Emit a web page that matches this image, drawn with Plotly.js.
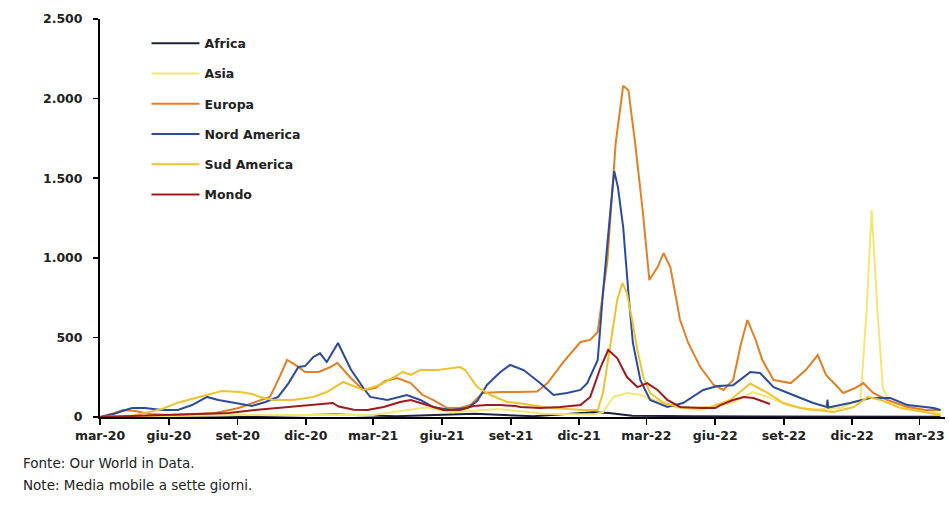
<!DOCTYPE html>
<html>
<head>
<meta charset="utf-8">
<script src="https://cdn.plot.ly/plotly-3.0.1.min.js"></script>
<style>html,body{margin:0;padding:0;background:#fff;}#chart{width:949px;height:508px;}</style>
</head>
<body>
<div id="chart"></div>
<script>
// ---- Tick labels ----
const tickDates = ['2020-03-01','2020-06-01','2020-09-01','2020-12-01','2021-03-01','2021-06-01','2021-09-01','2021-12-01','2022-03-01','2022-06-01','2022-09-01','2022-12-01','2023-03-01'];
const tickLabels = ['mar-20','giu-20','set-20','dic-20','mar-21','giu-21','set-21','dic-21','mar-22','giu-22','set-22','dic-22','mar-23'];

// ---- Africa ----
const africaDates = ['2020-03-01','2020-07-20','2020-09-15','2021-01-10','2021-04-01','2021-07-15','2021-10-01','2021-12-20','2022-01-10','2022-02-10','2022-05-01','2022-08-01','2022-12-01','2023-03-29'];
const africaValues = [0,10,5,15,5,20,5,30,25,8,5,3,2,1];

// ---- Asia ----
const asiaDates = ['2020-03-01','2020-06-01','2020-09-01','2020-12-01','2021-03-01','2021-05-10','2021-06-15','2021-08-15','2021-10-15','2021-12-20','2022-01-02','2022-01-16','2022-02-03','2022-02-21','2022-03-11','2022-04-06','2022-05-12','2022-06-25','2022-07-21','2022-08-10','2022-09-05','2022-10-05','2022-11-15','2022-12-12','2022-12-20','2022-12-27','2023-01-04','2023-01-11','2023-01-20','2023-02-13','2023-03-29'];
const asiaValues = [0,5,12,12,12,60,30,50,20,15,30,126,151,138,107,63,44,90,157,126,75,44,56,107,650,1300,650,180,100,56,25];

// ---- Europa ----
const europaDates = ['2020-03-01','2020-03-21','2020-04-01','2020-04-17','2020-05-07','2020-06-03','2020-07-06','2020-08-02','2020-09-01','2020-09-24','2020-10-14','2020-10-25','2020-11-06','2020-11-17','2020-11-30','2020-12-18','2021-01-03','2021-01-12','2021-01-30','2021-02-16','2021-03-04','2021-03-17','2021-04-02','2021-04-20','2021-05-06','2021-05-20','2021-06-08','2021-06-25','2021-07-09','2021-07-25','2021-08-18','2021-09-10','2021-10-06','2021-10-20','2021-11-10','2021-12-03','2021-12-16','2021-12-26','2022-01-08','2022-01-19','2022-01-29','2022-02-05','2022-02-14','2022-02-24','2022-03-05','2022-03-16','2022-03-24','2022-04-02','2022-04-15','2022-04-26','2022-05-12','2022-05-30','2022-06-12','2022-06-25','2022-07-05','2022-07-14','2022-07-25','2022-08-03','2022-08-18','2022-09-10','2022-09-30','2022-10-16','2022-10-27','2022-11-09','2022-11-19','2022-12-05','2022-12-16','2022-12-29','2023-01-17','2023-02-13','2023-03-09','2023-03-29'];
const europaValues = [0,25,44,38,19,13,19,25,55,94,126,232,358,327,283,283,314,340,245,170,182,226,245,213,138,107,56,56,75,151,157,157,160,213,345,471,484,534,986,1720,2080,2053,1720,1300,860,942,1030,942,609,465,314,201,170,232,452,609,484,358,232,213,295,389,264,201,151,182,213,151,107,63,44,44];

// ---- Nord America ----
const nordAmericaDates = ['2020-03-01','2020-03-20','2020-04-04','2020-04-13','2020-04-30','2020-05-23','2020-06-13','2020-07-02','2020-07-22','2020-08-06','2020-08-29','2020-09-20','2020-10-08','2020-10-25','2020-11-08','2020-11-21','2020-11-30','2020-12-11','2020-12-20','2020-12-29','2021-01-13','2021-01-30','2021-02-16','2021-02-25','2021-03-20','2021-04-15','2021-05-03','2021-05-20','2021-06-12','2021-07-05','2021-07-18','2021-07-31','2021-08-18','2021-08-31','2021-09-18','2021-10-10','2021-10-28','2021-11-15','2021-12-03','2021-12-12','2021-12-26','2022-01-02','2022-01-12','2022-01-17','2022-01-22','2022-01-29','2022-02-05','2022-02-11','2022-02-21','2022-03-06','2022-03-29','2022-04-19','2022-05-16','2022-06-04','2022-06-25','2022-07-18','2022-07-31','2022-08-18','2022-09-13','2022-10-10','2022-10-28','2022-10-29','2022-10-30','2022-11-28','2022-12-25','2023-01-21','2023-02-13','2023-03-20','2023-03-29'];
const nordAmericaValues = [0,20,44,56,56,44,44,75,126,107,88,69,94,126,213,314,320,377,400,345,465,300,182,126,107,138,107,63,44,56,100,201,283,327,295,213,138,151,170,213,358,779,1300,1545,1444,1193,779,465,232,107,63,88,170,195,200,283,276,188,138,88,63,110,60,88,119,119,75,56,44];

// ---- Sud America ----
const sudAmericaDates = ['2020-03-01','2020-04-15','2020-05-23','2020-06-13','2020-07-06','2020-07-26','2020-08-11','2020-09-04','2020-09-20','2020-10-01','2020-10-18','2020-11-14','2020-12-11','2020-12-29','2021-01-20','2021-01-30','2021-02-16','2021-03-10','2021-03-28','2021-04-10','2021-04-20','2021-05-03','2021-05-26','2021-06-25','2021-07-02','2021-07-18','2021-08-05','2021-08-27','2021-09-10','2021-09-27','2021-10-24','2021-12-07','2021-12-26','2022-01-02','2022-01-12','2022-01-21','2022-01-28','2022-02-03','2022-02-10','2022-02-17','2022-02-25','2022-03-06','2022-03-24','2022-04-19','2022-05-26','2022-06-21','2022-07-18','2022-08-10','2022-08-31','2022-09-23','2022-11-06','2022-12-03','2022-12-22','2023-01-08','2023-02-04','2023-03-12','2023-03-29'];
const sudAmericaValues = [0,10,50,90,119,145,163,157,144,126,107,107,126,157,220,201,170,201,251,283,264,295,295,314,295,188,138,94,88,75,56,44,44,151,465,735,842,779,609,421,251,151,88,56,63,107,210,151,88,56,31,63,126,107,56,25,13];

// ---- Mondo ----
const mondoDates = ['2020-03-01','2020-05-23','2020-07-06','2020-08-20','2020-09-24','2020-10-21','2020-11-17','2020-12-07','2021-01-06','2021-01-14','2021-02-03','2021-02-21','2021-03-15','2021-04-06','2021-04-20','2021-05-12','2021-06-03','2021-06-25','2021-07-13','2021-07-31','2021-08-18','2021-09-07','2021-09-14','2021-10-10','2021-11-06','2021-12-03','2021-12-16','2021-12-30','2022-01-09','2022-01-21','2022-02-03','2022-02-17','2022-03-02','2022-03-16','2022-03-29','2022-04-15','2022-05-12','2022-06-01','2022-06-08','2022-06-25','2022-07-09','2022-07-22','2022-08-13'];
const mondoValues = [0,13,19,25,44,56,69,75,88,66,45,44,63,94,107,75,44,44,69,75,75,69,63,56,63,75,126,314,421,370,251,188,213,170,107,63,56,56,75,107,126,119,82];

const seriesNames = ['Africa','Asia','Europa','Nord America','Sud America','Mondo'];
const seriesColors = ['#1c2240','#f4e676','#e0802a','#2c4b9b','#efc232','#9e1b1e'];
const seriesX = [africaDates, asiaDates, europaDates, nordAmericaDates, sudAmericaDates, mondoDates];
const seriesY = [africaValues, asiaValues, europaValues, nordAmericaValues, sudAmericaValues, mondoValues];

const traces = seriesNames.map((name, i) => ({
  type: 'scatter',
  mode: 'lines',
  name: name,
  legendgroup: 'g' + i,
  x: seriesX[i],
  y: seriesY[i],
  line: {color: seriesColors[i], width: 2},
  hoverinfo: 'skip'
}));

const fontMain = 'DejaVu Sans, Verdana, sans-serif';
const tickFont = {family: fontMain, size: 12.5, color: '#222', weight: 'bold'};

const layout = {
  width: 949,
  height: 508,
  margin: {l: 100, r: 4, t: 19, b: 91},
  paper_bgcolor: '#ffffff',
  plot_bgcolor: '#ffffff',
  separators: ',.',
  showlegend: true,
  legend: {
    x: 0.055, y: 0.976, xanchor: 'left', yanchor: 'top',
    font: {family: fontMain, size: 12.5, color: '#222', weight: 'bold'},
    tracegroupgap: 11,
    itemwidth: 48,
    bgcolor: 'rgba(0,0,0,0)',
    traceorder: 'grouped'
  },
  xaxis: {
    type: 'date',
    range: ['2020-03-01', '2023-04-04'],
    tickvals: tickDates,
    ticktext: tickLabels,
    ticks: 'outside', ticklen: 6, tickwidth: 1.5, tickcolor: '#000',
    showline: true, linecolor: '#000', linewidth: 2,
    showgrid: false, zeroline: false,
    tickfont: tickFont
  },
  yaxis: {
    range: [0, 2500],
    tickvals: [0, 500, 1000, 1500, 2000, 2500],
    tickformat: ',d',
    ticks: 'outside', ticklen: 5, tickwidth: 1.5, tickcolor: '#000',
    ticklabelstandoff: 8,
    showline: true, linecolor: '#000', linewidth: 2,
    showgrid: false, zeroline: false,
    tickfont: tickFont
  },
  annotations: [
    {text: 'Fonte: Our World in Data.', xref: 'paper', yref: 'paper', x: -0.093, y: -0.115, xanchor: 'left', yanchor: 'middle', showarrow: false, font: {family: fontMain, size: 13.5, color: '#222'}},
    {text: 'Note: Media mobile a sette giorni.', xref: 'paper', yref: 'paper', x: -0.093, y: -0.17, xanchor: 'left', yanchor: 'middle', showarrow: false, font: {family: fontMain, size: 13.5, color: '#222'}}
  ]
};

Plotly.newPlot('chart', traces, layout, {displayModeBar: false, staticPlot: true});
</script>
</body>
</html>
